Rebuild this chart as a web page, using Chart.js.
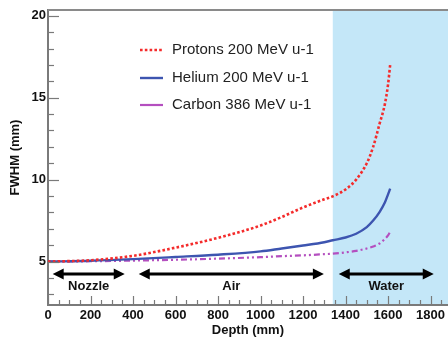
<!DOCTYPE html>
<html>
<head>
<meta charset="utf-8">
<script src="https://cdn.jsdelivr.net/npm/chart.js@4"></script>
<style>
  html, body { margin: 0; padding: 0; background: #fff; }
  #wrap { width: 448px; height: 340px; }
</style>
</head>
<body>
<div id="wrap"><canvas id="c" width="448" height="340"></canvas></div>
<script>
// depth samples (mm)
const depth = [0, 200, 400, 600, 800, 1000, 1100, 1200, 1300, 1340, 1400, 1450, 1500, 1530, 1560, 1585, 1600, 1610];
const protons = [5.0, 5.08, 5.35, 5.85, 6.45, 7.2, 7.72, 8.3, 8.8, 8.98, 9.4, 10.0, 11.0, 12.0, 13.4, 14.6, 15.8, 17.0];
const helium  = [5.0, 5.05, 5.15, 5.28, 5.42, 5.62, 5.8, 5.98, 6.18, 6.3, 6.47, 6.7, 7.1, 7.5, 8.02, 8.6, 9.1, 9.45];
const carbon  = [5.0, 5.02, 5.06, 5.11, 5.18, 5.27, 5.33, 5.38, 5.45, 5.48, 5.56, 5.65, 5.8, 5.92, 6.1, 6.38, 6.6, 6.82];

const seriesLabels = ['Protons 200 MeV u-1', 'Helium 200 MeV u-1', 'Carbon 386 MeV u-1'];
const xTicks = [0, 200, 400, 600, 800, 1000, 1200, 1400, 1600, 1800];
const yTicks = [5, 10, 15, 20];

// material regions along the beam (mm)
const waterStart = 1340;
const regionNames = ['Nozzle', 'Air', 'Water'];
const regionFrom  = [22, 427, 1368];
const regionTo    = [361, 1298, 1815];

const pts = ys => depth.map((d, i) => ({ x: d, y: ys[i] }));
const font = 'Liberation Sans, Arial, Helvetica, sans-serif';

const decor = {
    id: 'decor',
    beforeDraw(chart) {
        const { ctx, chartArea: a, scales: { x } } = chart;
        const wx = x.getPixelForValue(waterStart);
        ctx.save();
        ctx.fillStyle = '#c4e7f8';
        ctx.fillRect(wx, a.top, chart.width - wx, a.bottom - a.top);
        ctx.restore();
    },
    afterDatasetsDraw(chart) {
        const { ctx, chartArea: a, scales: { x, y } } = chart;
        ctx.save();
        // frame top
        ctx.strokeStyle = '#8a8a8a';
        ctx.lineWidth = 2;
        ctx.beginPath(); ctx.moveTo(a.left, a.top); ctx.lineTo(chart.width, a.top); ctx.stroke();

        // inward ticks
        ctx.lineWidth = 1.2;
        ctx.strokeStyle = '#7a7a7a';
        for (let v = 0; v <= x.max; v += 50) {
            const px = Math.round(x.getPixelForValue(v)) + 0.5;
            const len = v % 200 === 0 ? 9 : 5;
            ctx.beginPath(); ctx.moveTo(px, a.bottom); ctx.lineTo(px, a.bottom - len); ctx.stroke();
        }
        for (let v = Math.ceil(y.min); v <= y.max; v++) {
            const py = Math.round(y.getPixelForValue(v)) + 0.5;
            const len = v % 5 === 0 ? 11 : 6;
            ctx.beginPath(); ctx.moveTo(a.left, py); ctx.lineTo(a.left + len, py); ctx.stroke();
        }

        // region arrows
        const ay = 274, ly = 286;
        ctx.lineWidth = 3;
        regionNames.forEach((name, i) => {
            const x1 = x.getPixelForValue(regionFrom[i]);
            const x2 = x.getPixelForValue(regionTo[i]);
            ctx.fillStyle = '#000';
            ctx.strokeStyle = '#000';
            ctx.beginPath(); ctx.moveTo(x1 + 8, ay); ctx.lineTo(x2 - 8, ay); ctx.stroke();
            ctx.beginPath(); ctx.moveTo(x1, ay); ctx.lineTo(x1 + 11, ay - 5.5); ctx.lineTo(x1 + 11, ay + 5.5); ctx.closePath(); ctx.fill();
            ctx.beginPath(); ctx.moveTo(x2, ay); ctx.lineTo(x2 - 11, ay - 5.5); ctx.lineTo(x2 - 11, ay + 5.5); ctx.closePath(); ctx.fill();
            ctx.font = 'bold 13px ' + font;
            ctx.fillStyle = '#111';
            ctx.textAlign = 'center';
            ctx.textBaseline = 'middle';
            ctx.fillText(name, (x1 + x2) / 2, ly);
        });

        // legend
        const rows = [50, 78, 105];
        chart.data.datasets.forEach((ds, i) => {
            ctx.strokeStyle = ds.borderColor;
            ctx.lineWidth = ds.borderWidth;
            ctx.setLineDash(i === 0 ? ds.borderDash : []);
            ctx.beginPath(); ctx.moveTo(140, rows[i]); ctx.lineTo(163, rows[i]); ctx.stroke();
            ctx.setLineDash([]);
            ctx.font = '15px ' + font;
            ctx.fillStyle = '#222';
            ctx.textAlign = 'left';
            ctx.textBaseline = 'middle';
            ctx.fillText(ds.label, 172, rows[i]);
        });
        ctx.restore();
    }
};

new Chart(document.getElementById('c'), {
    type: 'line',
    data: {
        datasets: [
            { label: seriesLabels[0], data: pts(protons), borderColor: '#f42b2b', borderWidth: 2.6, borderDash: [2.6, 2.2] },
            { label: seriesLabels[1], data: pts(helium), borderColor: '#3d55b0', borderWidth: 2.4 },
            { label: seriesLabels[2], data: pts(carbon), borderColor: '#b44fbf', borderWidth: 2.2, borderDash: [6, 3, 2, 3, 2, 3] }
        ]
    },
    options: {
        responsive: false,
        animation: false,
        layout: { padding: { top: 10, right: 0, left: 0, bottom: 0 } },
        elements: { point: { radius: 0 }, line: { cubicInterpolationMode: 'monotone', fill: false } },
        plugins: { legend: { display: false }, tooltip: { enabled: false } },
        scales: {
            x: {
                type: 'linear', min: 0, max: 1881,
                afterBuildTicks: s => { s.ticks = xTicks.map(v => ({ value: v })); },
                afterFit: s => { s.height = 35; },
                grid: { display: false, drawTicks: false },
                border: { display: true, color: '#7a7a7a', width: 2 },
                ticks: { padding: 3, color: '#111', font: { family: font, size: 13, weight: 'bold' }, callback: v => String(v) },
                title: { display: true, text: 'Depth (mm)', color: '#111', padding: { top: 0, bottom: 2 }, font: { family: font, size: 13, weight: 'bold' } }
            },
            y: {
                type: 'linear', min: 2.35, max: 20.35,
                afterBuildTicks: s => { s.ticks = yTicks.map(v => ({ value: v })); },
                afterFit: s => { s.width = 48; },
                grid: { display: false, drawTicks: false },
                border: { display: true, color: '#7a7a7a', width: 2 },
                ticks: { padding: 2, color: '#111', font: { family: font, size: 13, weight: 'bold' }, callback: v => String(v) },
                title: { display: true, text: 'FWHM (mm)', color: '#111', padding: { top: 8, bottom: 0 }, font: { family: font, size: 13, weight: 'bold' } }
            }
        }
    },
    plugins: [decor]
});
</script>
</body>
</html>
